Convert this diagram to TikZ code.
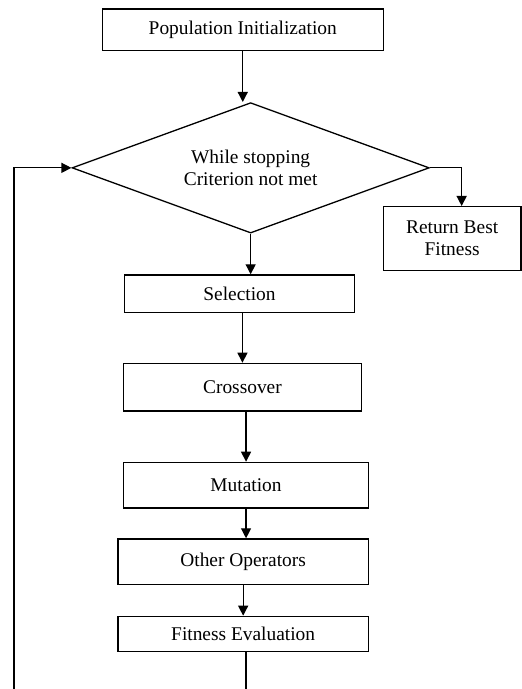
\documentclass[tikz,border=0pt]{standalone}
\usepackage{fontspec}
\setmainfont{Liberation Serif}
\usetikzlibrary{positioning,arrows.meta,shapes.geometric}

\begin{document}
\begin{tikzpicture}[
  font=\fontsize{9.7}{11}\selectfont,
  >={Triangle[length=5pt,width=5pt]},
  line width=0.65pt,
  opbox/.style  = {draw, rectangle, align=center, inner sep=0pt,
                   minimum width=#1},
  test/.style   = {draw, diamond, aspect=2.74, align=center, inner sep=0pt,
                   minimum width=178.6pt, minimum height=65.2pt},
  flow/.style   = {->},
  wire/.style   = {-}
]

\useasboundingbox (0,0) rectangle (260.5pt,-344.5pt);

% ========================= main loop of the GA =============================
\node[opbox=140.5pt, minimum height=20.85pt, anchor=north west] (init)
  at (50.8pt,-4.15pt) {Population Initialization};
\node[test, below=25.35pt of init, xshift=3.95pt] (dec)
  {While stopping\\Criterion not met};
\node[opbox=115.15pt, minimum height=18.7pt, below=20.3pt of dec,
      xshift=-5.6pt] (sel) {Selection};
\node[opbox=118.85pt, minimum height=23.8pt, below=24.85pt of sel,
      xshift=1.5pt] (cross) {Crossover};
\node[opbox=122.35pt, minimum height=22.8pt, below=25.05pt of cross,
      xshift=1.8pt] (mut) {Mutation};
\node[opbox=125.2pt, minimum height=22.85pt, below=14.85pt of mut,
      xshift=-1.45pt] (oth) {Other Operators};
\node[opbox=125.2pt, minimum height=17.65pt, below=15.2pt of oth] (fit)
  {Fitness Evaluation};

% exit branch
\node[opbox=68.8pt, minimum height=32pt, anchor=north west] (ret)
  at (191.35pt,-103pt) {Return Best\\Fitness};

\draw[flow] (init) -- (init |- dec.north);
\draw[flow] (dec.east) -| ([xshift=4.75pt]ret.north);
\draw[flow] (dec.south) -- (dec.south |- sel.north);
\draw[flow] (cross.north |- sel.south) -- (cross.north);
\draw[flow] (mut.north |- cross.south) -- (mut.north);
\draw[flow] (mut.south) -- (mut.south |- oth.north);
\draw[flow] (oth.south) -- (oth.south |- fit.north);

% back edge: runs off the foot of the page and comes back up the left side
\coordinate (foot) at (0,-344.5pt);
\coordinate (loopfoot) at (7pt,-344.5pt);
\draw[wire] ([xshift=1.4pt]fit.south) -- ([xshift=1.4pt]fit.south |- foot);
\draw[flow] (loopfoot) |- (dec.west);

\end{tikzpicture}
\end{document}
